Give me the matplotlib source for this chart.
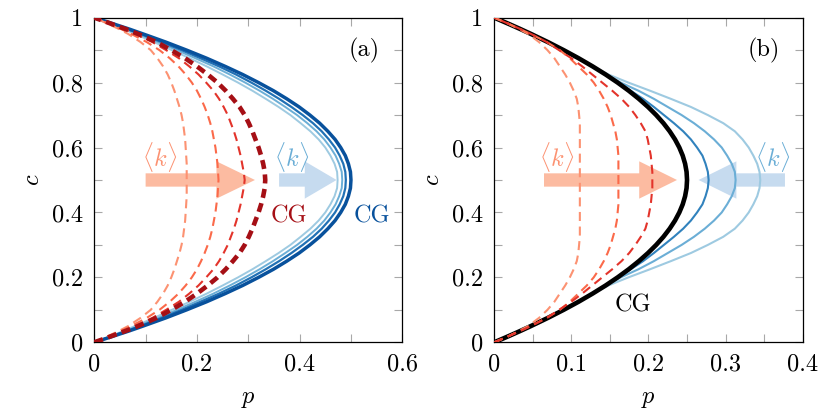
import matplotlib
matplotlib.use('Agg')
import matplotlib.pyplot as plt

# c grid shared by all curves
c = [0, 0.01, 0.02, 0.035, 0.05, 0.075, 0.1, 0.125, 0.15, 0.175, 0.2, 0.225, 0.25, 0.275,
     0.3, 0.325, 0.35, 0.375, 0.4, 0.425, 0.45, 0.475, 0.5, 0.525, 0.55, 0.575, 0.6, 0.625,
     0.65, 0.675, 0.7, 0.725, 0.75, 0.775, 0.8, 0.825, 0.85, 0.875, 0.9, 0.925, 0.95, 0.965,
     0.98, 0.99, 1]

# panel (a): solid blue family (light -> dark, last one = CG)
a_blue1 = [0, 0.017, 0.033, 0.057, 0.079, 0.116, 0.151, 0.186, 0.219, 0.25, 0.28, 0.308,
           0.334, 0.359, 0.382, 0.402, 0.421, 0.437, 0.45, 0.46, 0.468, 0.473, 0.474,
           0.473, 0.468, 0.46, 0.45, 0.437, 0.421, 0.402, 0.382, 0.359, 0.334, 0.308,
           0.28, 0.25, 0.219, 0.186, 0.151, 0.116, 0.079, 0.057, 0.033, 0.017, 0]
a_blue2 = [0, 0.018, 0.035, 0.061, 0.085, 0.124, 0.161, 0.197, 0.232, 0.264, 0.294, 0.322,
           0.348, 0.372, 0.395, 0.415, 0.433, 0.448, 0.46, 0.47, 0.477, 0.482, 0.483,
           0.482, 0.477, 0.47, 0.46, 0.448, 0.433, 0.415, 0.395, 0.372, 0.348, 0.322,
           0.294, 0.264, 0.232, 0.197, 0.161, 0.124, 0.085, 0.061, 0.035, 0.018, 0]
a_blue3 = [0, 0.019, 0.037, 0.064, 0.09, 0.131, 0.17, 0.207, 0.243, 0.276, 0.306, 0.334,
           0.36, 0.384, 0.406, 0.426, 0.443, 0.457, 0.469, 0.478, 0.485, 0.489, 0.49,
           0.489, 0.485, 0.478, 0.469, 0.457, 0.443, 0.426, 0.406, 0.384, 0.36, 0.334,
           0.306, 0.276, 0.243, 0.207, 0.17, 0.131, 0.09, 0.064, 0.037, 0.019, 0]
a_blue_cg = [0, 0.0198, 0.039, 0.068, 0.095, 0.139, 0.18, 0.219, 0.255, 0.289, 0.32, 0.349,
             0.375, 0.399, 0.42, 0.439, 0.455, 0.469, 0.48, 0.489, 0.495, 0.499, 0.5,
             0.499, 0.495, 0.489, 0.48, 0.469, 0.455, 0.439, 0.42, 0.399, 0.375, 0.349,
             0.32, 0.289, 0.255, 0.219, 0.18, 0.139, 0.095, 0.068, 0.039, 0.0198, 0]

# panel (a): dashed red family (light -> dark, last one = CG)
a_red1 = [0, 0.014, 0.028, 0.048, 0.066, 0.09, 0.11, 0.123, 0.134, 0.143, 0.15, 0.156,
          0.161, 0.166, 0.17, 0.173, 0.175, 0.177, 0.178, 0.179, 0.18, 0.18, 0.18,
          0.18, 0.18, 0.179, 0.178, 0.177, 0.175, 0.173, 0.17, 0.166, 0.161, 0.156,
          0.15, 0.143, 0.134, 0.123, 0.11, 0.09, 0.066, 0.048, 0.028, 0.014, 0]
a_red2 = [0, 0.015, 0.03, 0.052, 0.072, 0.102, 0.127, 0.147, 0.164, 0.178, 0.19, 0.2,
          0.208, 0.215, 0.221, 0.226, 0.23, 0.233, 0.236, 0.238, 0.24, 0.241, 0.242,
          0.241, 0.24, 0.238, 0.236, 0.233, 0.23, 0.226, 0.221, 0.215, 0.208, 0.2,
          0.19, 0.178, 0.164, 0.147, 0.127, 0.102, 0.072, 0.052, 0.03, 0.015, 0]
a_red3 = [0, 0.017, 0.033, 0.058, 0.08, 0.113, 0.14, 0.165, 0.185, 0.203, 0.218, 0.232,
          0.243, 0.252, 0.26, 0.266, 0.272, 0.277, 0.281, 0.285, 0.288, 0.291, 0.293,
          0.291, 0.288, 0.285, 0.281, 0.277, 0.272, 0.266, 0.26, 0.252, 0.243, 0.232,
          0.218, 0.203, 0.185, 0.165, 0.14, 0.113, 0.08, 0.058, 0.033, 0.017, 0]
a_red_cg = [0, 0.018, 0.035, 0.061, 0.085, 0.121, 0.15, 0.177, 0.2, 0.221, 0.24, 0.256,
            0.27, 0.283, 0.293, 0.301, 0.308, 0.314, 0.32, 0.325, 0.329, 0.332, 0.333,
            0.332, 0.329, 0.325, 0.32, 0.314, 0.308, 0.301, 0.293, 0.283, 0.27, 0.256,
            0.24, 0.221, 0.2, 0.177, 0.15, 0.121, 0.085, 0.061, 0.035, 0.018, 0]

# panel (b): black CG, blue solid (dark -> light), red dashed (light -> dark)
b_black = [0, 0.0099, 0.0196, 0.0338, 0.0475, 0.0694, 0.09, 0.1094, 0.1275, 0.1444, 0.16,
           0.1744, 0.1875, 0.1994, 0.21, 0.2194, 0.2275, 0.2344, 0.24, 0.2444, 0.2475,
           0.2494, 0.25, 0.2494, 0.2475, 0.2444, 0.24, 0.2344, 0.2275, 0.2194, 0.21,
           0.1994, 0.1875, 0.1744, 0.16, 0.1444, 0.1275, 0.1094, 0.09, 0.0694, 0.0475,
           0.0338, 0.0196, 0.0099, 0]
b_blue1 = [0, 0.0099, 0.0196, 0.0338, 0.0475, 0.0694, 0.09, 0.1094, 0.1275, 0.1444, 0.161,
           0.177, 0.193, 0.207, 0.22, 0.233, 0.245, 0.255, 0.263, 0.27, 0.274, 0.277, 0.278,
           0.277, 0.274, 0.27, 0.263, 0.255, 0.245, 0.233, 0.22, 0.207, 0.193, 0.177,
           0.161, 0.1444, 0.1275, 0.1094, 0.09, 0.0694, 0.0475, 0.0338, 0.0196, 0.0099, 0]
b_blue2 = [0, 0.0099, 0.0196, 0.0338, 0.0475, 0.0694, 0.09, 0.1094, 0.1275, 0.145, 0.164,
           0.187, 0.207, 0.225, 0.243, 0.259, 0.273, 0.285, 0.295, 0.302, 0.308, 0.312, 0.313,
           0.312, 0.308, 0.302, 0.295, 0.285, 0.273, 0.259, 0.243, 0.225, 0.207, 0.187,
           0.164, 0.145, 0.1275, 0.1094, 0.09, 0.0694, 0.0475, 0.0338, 0.0196, 0.0099, 0]
b_blue3 = [0, 0.0099, 0.0196, 0.0338, 0.0475, 0.0694, 0.09, 0.1094, 0.128, 0.148, 0.174,
           0.202, 0.229, 0.255, 0.277, 0.297, 0.312, 0.322, 0.33, 0.336, 0.341, 0.344, 0.345,
           0.344, 0.341, 0.336, 0.33, 0.322, 0.312, 0.297, 0.277, 0.255, 0.229, 0.202,
           0.174, 0.148, 0.128, 0.1094, 0.09, 0.0694, 0.0475, 0.0338, 0.0196, 0.0099, 0]
b_red1 = [0, 0.0099, 0.0195, 0.032, 0.044, 0.058, 0.069, 0.078, 0.085, 0.092, 0.098, 0.103,
          0.107, 0.109, 0.11, 0.111, 0.111, 0.111, 0.111, 0.111, 0.111, 0.111, 0.111,
          0.111, 0.111, 0.111, 0.111, 0.111, 0.111, 0.111, 0.11, 0.109, 0.107, 0.103,
          0.098, 0.092, 0.085, 0.078, 0.069, 0.058, 0.044, 0.032, 0.0195, 0.0099, 0]
b_red2 = [0, 0.0099, 0.0196, 0.0335, 0.047, 0.068, 0.085, 0.098, 0.109, 0.12, 0.129, 0.136,
          0.142, 0.147, 0.151, 0.154, 0.157, 0.159, 0.16, 0.161, 0.161, 0.161, 0.161,
          0.161, 0.161, 0.161, 0.16, 0.159, 0.157, 0.154, 0.151, 0.147, 0.142, 0.136,
          0.129, 0.12, 0.109, 0.098, 0.085, 0.068, 0.047, 0.0335, 0.0196, 0.0099, 0]
b_red3 = [0, 0.0099, 0.0196, 0.0338, 0.0475, 0.068, 0.084, 0.1, 0.114, 0.127, 0.14, 0.153,
          0.165, 0.175, 0.183, 0.19, 0.196, 0.199, 0.201, 0.203, 0.204, 0.205, 0.205,
          0.205, 0.204, 0.203, 0.201, 0.199, 0.196, 0.19, 0.183, 0.175, 0.165, 0.153,
          0.14, 0.127, 0.114, 0.1, 0.084, 0.068, 0.0475, 0.0338, 0.0196, 0.0099, 0]

yticks = [0, 0.2, 0.4, 0.6, 0.8, 1]
ytick_labels = ['0', '0.2', '0.4', '0.6', '0.8', '1']
a_xticks = [0, 0.2, 0.4, 0.6]
a_xtick_labels = ['0', '0.2', '0.4', '0.6']
b_xticks = [0, 0.1, 0.2, 0.3, 0.4]
b_xtick_labels = ['0', '0.1', '0.2', '0.3', '0.4']

plt.rcParams['font.family'] = 'serif'
plt.rcParams['font.serif'] = ['cmr10']
plt.rcParams['mathtext.fontset'] = 'cm'
plt.rcParams['axes.formatter.use_mathtext'] = True
plt.rcParams['lines.scale_dashes'] = False

FS = 17.5
dash = (0, (6.5, 4))
red_light, red_mid, red_strong, red_dark = '#fc9272', '#fb6a4a', '#e3342b', '#a50f15'
blue_light, blue_mid, blue_strong, blue_dark = '#9ecae1', '#6baed6', '#3182bd', '#08519c'

fig = plt.figure(figsize=(8.3, 4.15), dpi=100)
ax1 = fig.add_axes([0.1136, 0.1752, 0.3711, 0.7822])
ax2 = fig.add_axes([0.5955, 0.1752, 0.3716, 0.7822])

# --- panel (a)
ax1.arrow(0.1, 0.5, 0.213, 0, width=0.041, head_width=0.115, head_length=0.075,
          length_includes_head=True, color='#fcbba1', lw=0, zorder=1)
ax1.arrow(0.36, 0.5, 0.112, 0, width=0.041, head_width=0.115, head_length=0.062,
          length_includes_head=True, color='#c6dbef', lw=0, zorder=1)

for p, col, lw in zip([a_blue1, a_blue2, a_blue3, a_blue_cg],
                      [blue_light, blue_mid, '#2171b5', blue_dark],
                      [1.4, 1.4, 1.6, 2.5]):
    ax1.plot(p, c, color=col, lw=lw, zorder=2)
for p, col, lw in zip([a_red1, a_red2, a_red3, a_red_cg],
                      [red_light, red_mid, red_strong, red_dark],
                      [1.5, 1.5, 1.5, 3.3]):
    ax1.plot(p, c, color=col, lw=lw, ls=dash, zorder=3)

ax1.text(0.128, 0.572, r'$\langle k\rangle$', color=red_light, fontsize=FS, ha='center', va='center')
ax1.text(0.385, 0.572, r'$\langle k\rangle$', color=blue_mid, fontsize=FS, ha='center', va='center')
ax1.text(0.38, 0.387, 'CG', color=red_dark, fontsize=FS, ha='center', va='center')
ax1.text(0.54, 0.387, 'CG', color=blue_dark, fontsize=FS, ha='center', va='center')
ax1.text(0.525, 0.9, '(a)', fontsize=FS, ha='center', va='center')
ax1.set_xlim(0, 0.6)
ax1.set_xticks(a_xticks)
ax1.set_xticklabels(a_xtick_labels)
ax1.set_xticks([0.1, 0.3, 0.5], minor=True)

# --- panel (b)
ax2.arrow(0.0645, 0.5, 0.1725, 0, width=0.041, head_width=0.115, head_length=0.049,
          length_includes_head=True, color='#fcbba1', lw=0, zorder=1)
ax2.arrow(0.377, 0.5, -0.112, 0, width=0.041, head_width=0.115, head_length=0.049,
          length_includes_head=True, color='#c6dbef', lw=0, zorder=1)

for p, col in zip([b_blue3, b_blue2, b_blue1], [blue_light, blue_mid, blue_strong]):
    ax2.plot(p, c, color=col, lw=1.5, zorder=2)
ax2.plot(b_black, c, color='black', lw=3.3, zorder=3)
for p, col in zip([b_red1, b_red2, b_red3], [red_light, red_mid, red_strong]):
    ax2.plot(p, c, color=col, lw=1.5, ls=dash, zorder=4)

ax2.text(0.081, 0.572, r'$\langle k\rangle$', color=red_light, fontsize=FS, ha='center', va='center')
ax2.text(0.361, 0.572, r'$\langle k\rangle$', color=blue_mid, fontsize=FS, ha='center', va='center')
ax2.text(0.18, 0.115, 'CG', color='black', fontsize=FS, ha='center', va='center')
ax2.text(0.35, 0.9, '(b)', fontsize=FS, ha='center', va='center')
ax2.set_xlim(0, 0.4)
ax2.set_xticks(b_xticks)
ax2.set_xticklabels(b_xtick_labels)
ax2.set_xticks([0.05, 0.15, 0.25, 0.35], minor=True)

for ax in (ax1, ax2):
    ax.set_ylim(0, 1)
    ax.set_yticks(yticks)
    ax.set_yticklabels(ytick_labels)
    ax.set_yticks([0.1, 0.3, 0.5, 0.7, 0.9], minor=True)
    ax.tick_params(which='both', direction='in', top=True, right=True, length=6,
                   width=0.8, color='#a8a8a8', labelsize=FS, pad=8)
    for s in ax.spines.values():
        s.set_linewidth(0.9)
    ax.set_xlabel('$p$', fontsize=FS, labelpad=9)
    ax.set_ylabel('$c$', fontsize=FS, labelpad=6)

fig.savefig('out.png', dpi=100)
